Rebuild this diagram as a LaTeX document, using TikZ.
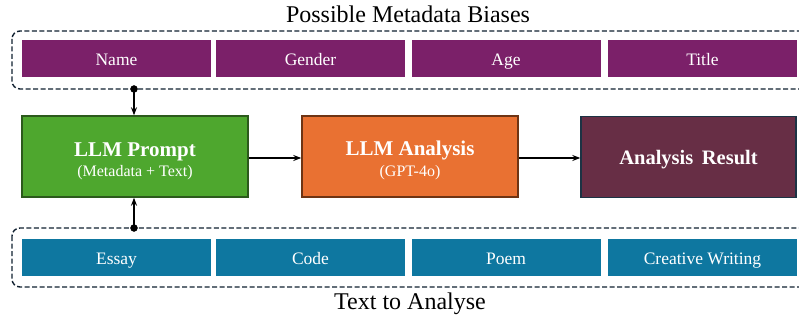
\documentclass[tikz,border=0pt]{standalone}
\usepackage{fontspec}
\setmainfont{Liberation Serif}
\usetikzlibrary{arrows.meta}
\definecolor{biaspurple}{HTML}{7B2069}
\definecolor{textblue}{HTML}{0E77A0}
\definecolor{promptgreen}{HTML}{4EA72E}
\definecolor{promptedge}{HTML}{2C5A1C}
\definecolor{llmorange}{HTML}{E97132}
\definecolor{llmedge}{HTML}{6E3414}
\definecolor{resultred}{HTML}{672E45}
\definecolor{resultedge}{HTML}{1C3344}
\definecolor{dashnavy}{HTML}{102030}
\tikzset{
	tag/.style={minimum width=189pt, minimum height=37pt, inner sep=0pt, text=white, text height=15pt, text depth=0pt, font=\fontsize{17.5}{20}\selectfont},
	biastag/.style={tag, fill=biaspurple},
	texttag/.style={tag, fill=textblue},
	group/.style={draw=dashnavy, line width=1.4pt, dash pattern=on 5pt off 2.5pt, rounded corners=8pt},
	stage/.style={minimum height=81pt, inner sep=0pt, text=white, align=center, line width=1.4pt},
	link/.style={line width=1.3pt, -{Stealth[length=8pt, width=6pt]}}
}
\begin{document}
\begin{tikzpicture}[x=1pt, y=1pt]
		\useasboundingbox (0,0) rectangle (799,-320);
		% metadata group
		\draw[group] (12,-31) rectangle (812,-89);
		\node[biastag] (name) at (116.5,-58.5) {Name};
		\node[biastag] (gender) at (310.5,-58.5) {Gender};
		\node[biastag] (age) at (506,-58.5) {Age};
		\node[biastag] (title) at (702.5,-58.5) {Title};
		\node[font=\fontsize{24}{26}\selectfont] (biases) at (408,-14) {Possible Metadata Biases};
		% text group
		\draw[group] (12,-228) rectangle (812,-287);
		\node[texttag] (essay) at (116.5,-257) {Essay};
		\node[texttag] (code) at (310.5,-257) {Code};
		\node[texttag] (poem) at (506,-257) {Poem};
		\node[texttag] (creative) at (702.5,-257) {Creative Writing};
		\node[font=\fontsize{24}{26}\selectfont] (analyse) at (410,-304) {Text to Analyse};
		% pipeline
		\node[stage, minimum width=226pt, fill=promptgreen, draw=promptedge] (prompt) at (135,-156.5)
			{\rule{0pt}{23pt}{\bfseries\fontsize{21}{23}\selectfont LLM Prompt}\\[4pt]{\fontsize{16}{18}\selectfont (Metadata + Text)}};
		\node[stage, minimum width=216pt, fill=llmorange, draw=llmedge] (llm) at (410,-156.5)
			{\rule{0pt}{23pt}{\bfseries\fontsize{21}{23}\selectfont LLM Analysis}\\[4pt]{\fontsize{16}{18}\selectfont (GPT-4o)}};
		\node[stage, minimum width=215pt, fill=resultred, draw=resultedge] (result) at (688.5,-157)
			{\rule{0pt}{19pt}{\bfseries\fontsize{20.5}{23}\selectfont Analysis\, Result}};
		\coordinate (P0) at (134,-89);
		\coordinate (P1) at (134,-228);
		\draw[fill] (P0) circle [radius=3.5pt];
		\draw[fill] (P1) circle [radius=3.5pt];
		\draw[link] (P0) -- (P0 |- prompt.north);
		\draw[link] (P1) -- (P1 |- prompt.south);
		\draw[link] (prompt.east |- 0,-158) -- (llm.west |- 0,-158);
		\draw[link] (llm.east |- 0,-158) -- (result.west |- 0,-158);
		\end{tikzpicture}
\end{document}
